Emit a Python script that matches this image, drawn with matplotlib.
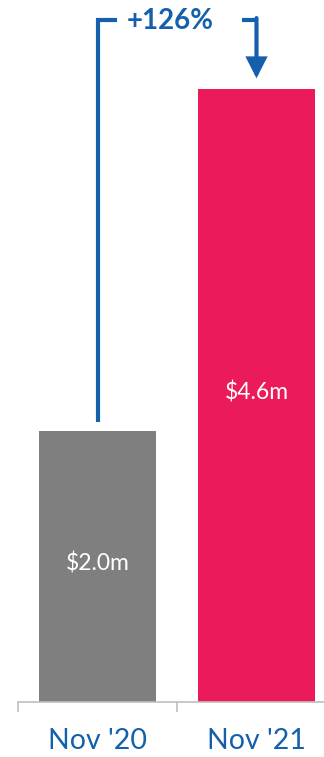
import matplotlib.pyplot as plt

periods = ["Nov '20", "Nov '21"]
values = [2.03, 4.59]
value_labels = ['$2.0m', '$4.6m']
change_label = '+126%'
bar_colors = ['#7F7F7F', '#EB1A5A']
blue = '#1560AC'

plt.rcParams['font.family'] = ['Lato', 'DejaVu Sans']

fig = plt.figure(figsize=(3.24, 7.57), dpi=100)
# axis line sits 55px above the bottom, x range runs past the right edge
ax = fig.add_axes([18 / 324, 55 / 757, 318 / 324, 702 / 757])

x = list(range(len(values)))
ax.bar(x, values, width=0.74, color=bar_colors, zorder=2)
ax.set_xlim(-0.5, 1.5)
ax.set_ylim(0, values[1] * 702 / 613)

# value labels inside the bars
for xi, v, lab in zip(x, values, value_labels):
    ax.text(xi, v / 2 + 0.02, lab, ha='center', va='center', color='white', fontsize=16.5)

# axis styling: category boundaries as ticks, labels centred under bars
for s in ['top', 'left', 'right']:
    ax.spines[s].set_visible(False)
ax.spines['bottom'].set_color('#BFBFBF')
ax.spines['bottom'].set_linewidth(1.2)
ax.set_yticks([])
ax.set_xticks([-0.5, 0.5, 1.5])
ax.set_xticklabels([])
ax.tick_params(axis='x', which='major', length=7.5, width=1.2, color='#BFBFBF')
ax.set_xticks(x, minor=True)
ax.set_xticklabels(periods, minor=True)
ax.tick_params(axis='x', which='minor', length=0, pad=19, labelsize=20.5, labelcolor=blue)

# growth bracket with arrow
top = 5.11
ax.plot([0, 0, 0.12], [values[0] + 0.07, top, top], color=blue, lw=3,
        solid_joinstyle='miter', solid_capstyle='butt', clip_on=False)
ax.plot([0.91, 1.0], [top, top], color=blue, lw=3,
        solid_capstyle='butt', clip_on=False)
ax.annotate('', xy=(1.0, values[1] + 0.08), xytext=(1.0, top + 0.011),
            arrowprops=dict(arrowstyle='-|>,head_length=0.55,head_width=0.28',
                            mutation_scale=20, lw=3, color=blue,
                            shrinkA=0, shrinkB=0, joinstyle='miter'),
            annotation_clip=False)
ax.text(0.456, top - 0.01, change_label, ha='center', va='center',
        color=blue, fontsize=20, fontweight='bold')

fig.savefig('out.png', dpi=100)
